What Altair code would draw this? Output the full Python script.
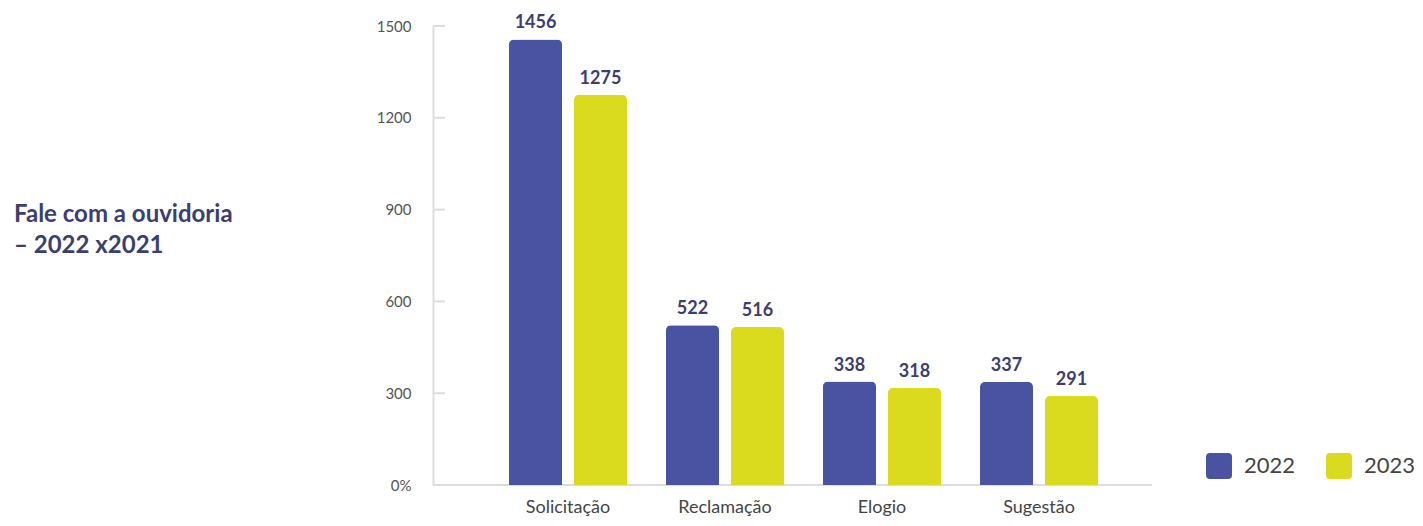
import altair as alt
import pandas as pd

categories = ["Solicitação", "Reclamação", "Elogio", "Sugestão"]
years = ["2022", "2023"]
values_2022 = [1456, 522, 338, 337]
values_2023 = [1275, 516, 318, 291]
y_ticks = [0, 300, 600, 900, 1200, 1500]
title_lines = ["Fale com a ouvidoria", "– 2022 x2021"]

rows = []
for c, a, b in zip(categories, values_2022, values_2023):
    rows.append({"cat": c, "year": "2022", "v": a})
    rows.append({"cat": c, "year": "2023", "v": b})
df = pd.DataFrame(rows)

FONT = "Lato"
NAVY = "#3C3E70"
BLUE = "#4953A1"
YELLOW = "#DADA1E"
AXIS = "#DDDDDD"

W, H = 719, 459

rounded = ("M -0.7,-1 L 0.7,-1 Q 1,-1 1,-0.7 L 1,0.7 Q 1,1 0.7,1 "
           "L -0.7,1 Q -1,1 -1,0.7 L -1,-0.7 Q -1,-1 -0.7,-1 Z")

x = alt.X("cat:N", sort=categories, title=None,
          scale=alt.Scale(range=[56.5, 684.5], paddingInner=0, paddingOuter=0),
          axis=alt.Axis(domain=False, ticks=False, labelAngle=0, labelFont=FONT,
                        labelFontSize=18, labelColor="#444444", labelPadding=13))
xo = alt.XOffset("year:N", sort=years,
                 scale=alt.Scale(paddingInner=0.1846, paddingOuter=0.3))
y = alt.Y("v:Q", title=None,
          scale=alt.Scale(domain=[0, 1500], nice=False),
          axis=alt.Axis(values=y_ticks, domain=True, domainColor=AXIS, domainWidth=2,
                        ticks=False, grid=False, labelFont=FONT, labelFontSize=15,
                        labelColor="#555555", labelPadding=22, format="d",
                        labelExpr="datum.value == 0 ? '0%' : datum.label"))

bars = alt.Chart(df).mark_bar(cornerRadiusTopLeft=5, cornerRadiusTopRight=5).encode(
    x=x, xOffset=xo, y=y,
    color=alt.Color("year:N", sort=years,
                    scale=alt.Scale(domain=years, range=[BLUE, YELLOW]),
                    legend=alt.Legend(title=None, orient="none", legendX=773, legendY=427,
                                      direction="horizontal", symbolType=rounded,
                                      symbolSize=676, symbolStrokeWidth=0,
                                      labelFont=FONT, labelFontSize=22,
                                      labelColor="#444444", labelOffset=12,
                                      columnPadding=30, padding=0))
)

labels = alt.Chart(df).mark_text(font=FONT, fontSize=18, fontWeight="bold",
                                 color=NAVY, dy=-11, baseline="alphabetic").encode(
    x=x, xOffset=xo, y=y, text="v:Q"
)

ticks_df = pd.DataFrame({"t": y_ticks})
ticks = alt.Chart(ticks_df).mark_rule(color=AXIS, strokeWidth=2).encode(
    y=alt.Y("t:Q", scale=alt.Scale(domain=[0, 1500], nice=False)),
    x=alt.value(0), x2=alt.value(12)
)

xline = alt.Chart(pd.DataFrame({"z": [0]})).mark_rule(color=AXIS, strokeWidth=2).encode(
    y=alt.Y("z:Q", scale=alt.Scale(domain=[0, 1500], nice=False)),
    x=alt.value(0), x2=alt.value(W)
)

title = alt.Chart(pd.DataFrame({"z": [0]})).mark_text(
    text=title_lines, font=FONT, fontSize=24, fontWeight="bold", color=NAVY,
    align="left", baseline="alphabetic", lineHeight=31
).encode(x=alt.value(-419), y=alt.value(196))

chart = alt.layer(ticks, xline, bars, labels, title).properties(
    width=W, height=H,
    autosize=alt.AutoSizeParams(type="none"),
    padding={"left": 425, "top": 18, "right": 262, "bottom": 33},
).configure_view(stroke=None)

chart.save("out.html", embed_options={"renderer": "svg", "actions": False})
